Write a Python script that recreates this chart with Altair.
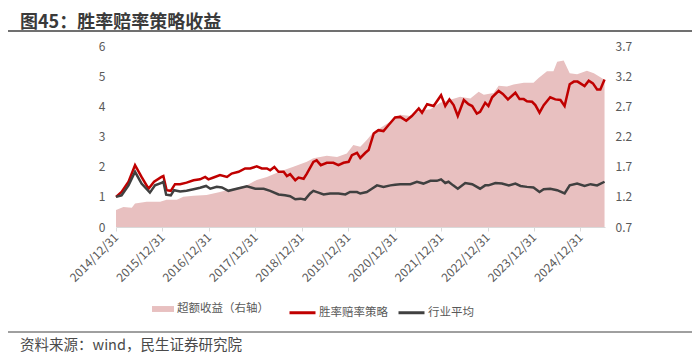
import altair as alt
import pandas as pd

FONT = "Noto Sans CJK SC"

TITLE = "图45：胜率赔率策略收益"
SOURCE = "资料来源：wind，民生证券研究院"
S_AREA = "超额收益（右轴）"
S_RED = "胜率赔率策略"
S_GREY = "行业平均"

# x positions as fractional years: 2015.0 == 2014/12/31
year_ticks = [2015, 2016, 2017, 2018, 2019, 2020, 2021, 2022, 2023, 2024, 2025]
left_ticks = [0, 1, 2, 3, 4, 5, 6]
right_ticks = [0.7, 1.2, 1.7, 2.2, 2.7, 3.2, 3.7]

red_t = [2015.00, 2015.12, 2015.27, 2015.41, 2015.55, 2015.70, 2015.82, 2015.98,
         2016.02, 2016.09, 2016.18, 2016.27, 2016.38, 2016.52, 2016.67, 2016.81, 2016.92, 2016.99,
         2017.10, 2017.24, 2017.39, 2017.49, 2017.64, 2017.78, 2017.89,
         2018.03, 2018.14, 2018.25, 2018.32, 2018.41, 2018.50, 2018.61, 2018.68, 2018.75, 2018.86, 2018.93,
         2019.04, 2019.11, 2019.25, 2019.32, 2019.41, 2019.54, 2019.68, 2019.79, 2019.90,
         2020.01, 2020.08, 2020.19, 2020.26, 2020.37, 2020.44, 2020.55, 2020.65, 2020.76, 2020.87,
         2021.01, 2021.12, 2021.25, 2021.37, 2021.52, 2021.59, 2021.70, 2021.84,
         2022.00, 2022.09, 2022.18, 2022.27, 2022.36, 2022.49, 2022.59, 2022.67, 2022.77, 2022.84, 2022.95,
         2023.02, 2023.10, 2023.24, 2023.33, 2023.44, 2023.60, 2023.69, 2023.78, 2023.85, 2023.96,
         2024.03, 2024.12, 2024.21, 2024.35, 2024.46, 2024.57, 2024.66, 2024.77, 2024.86, 2024.94,
         2025.09, 2025.18, 2025.27, 2025.36, 2025.43, 2025.52]
red_v = [1.0, 1.16, 1.5, 2.05, 1.66, 1.27, 1.5, 1.66,
         1.69, 1.22, 1.2, 1.42, 1.42, 1.47, 1.55, 1.58, 1.66, 1.58,
         1.64, 1.72, 1.66, 1.77, 1.83, 1.94, 1.94,
         2.01, 1.94, 1.94, 1.88, 1.99, 1.83, 1.83, 1.69, 1.75, 1.55, 1.64,
         1.6, 1.77, 2.16, 2.21, 2.05, 2.13, 2.13, 2.05, 2.13,
         2.16, 2.38, 2.46, 2.29, 2.46, 2.55, 3.1, 3.21, 3.18, 3.38,
         3.63, 3.65, 3.52, 3.68, 3.93, 3.79, 4.07, 4.01,
         4.37, 4.01, 4.23, 4.04, 3.68, 4.21, 4.07, 4.01, 3.76, 3.82, 4.12,
         4.01, 4.3, 4.51, 4.41, 4.23, 4.45, 4.24, 4.24, 4.17, 4.15,
         4.04, 3.79, 4.04, 4.3, 4.23, 4.21, 4.01, 4.73, 4.82, 4.82,
         4.67, 4.85, 4.76, 4.56, 4.56, 4.89]

grey_t = [2015.00, 2015.12, 2015.27, 2015.41, 2015.55, 2015.73, 2015.84, 2015.98,
          2016.02, 2016.08, 2016.18, 2016.25, 2016.38, 2016.52, 2016.67, 2016.81, 2016.94,
          2017.03, 2017.17, 2017.28, 2017.42, 2017.60, 2017.82,
          2018.00, 2018.18, 2018.32, 2018.50, 2018.64, 2018.75, 2018.86, 2018.97,
          2019.07, 2019.18, 2019.25, 2019.36, 2019.47, 2019.61, 2019.79, 2019.94,
          2020.04, 2020.19, 2020.26, 2020.40, 2020.51, 2020.62, 2020.76, 2020.91,
          2021.01, 2021.12, 2021.34, 2021.48, 2021.62, 2021.77, 2021.91,
          2022.00, 2022.09, 2022.16, 2022.26, 2022.36, 2022.52, 2022.67, 2022.84, 2022.95,
          2023.02, 2023.17, 2023.31, 2023.46, 2023.60, 2023.71, 2023.85, 2023.99,
          2024.12, 2024.21, 2024.35, 2024.50, 2024.66, 2024.77, 2024.93,
          2025.09, 2025.22, 2025.36, 2025.52]
grey_v = [1.0, 1.05, 1.38, 1.83, 1.44, 1.14, 1.38, 1.46,
          1.5, 1.07, 1.05, 1.22, 1.18, 1.2, 1.25, 1.3, 1.36,
          1.27, 1.33, 1.31, 1.2, 1.27, 1.35,
          1.27, 1.27, 1.2, 1.08, 1.05, 1.02, 0.92, 0.94,
          0.91, 1.11, 1.2, 1.14, 1.08, 1.11, 1.11, 1.08,
          1.16, 1.16, 1.11, 1.16, 1.27, 1.38, 1.33, 1.38,
          1.40, 1.42, 1.42, 1.5, 1.44, 1.53, 1.53,
          1.58, 1.46, 1.5, 1.38, 1.27, 1.46, 1.42, 1.27, 1.38,
          1.38, 1.46, 1.44, 1.38, 1.44, 1.36, 1.33, 1.31,
          1.16, 1.25, 1.27, 1.22, 1.11, 1.38, 1.44,
          1.36, 1.42, 1.38, 1.5]

area_t = [2015.00, 2015.16, 2015.34, 2015.41, 2015.66, 2015.95,
          2016.09, 2016.31, 2016.45, 2016.67, 2016.95,
          2017.24, 2017.53, 2017.82,
          2018.03, 2018.25, 2018.53, 2018.82,
          2019.11, 2019.25, 2019.54, 2019.76, 2019.97,
          2020.11, 2020.26, 2020.40, 2020.55, 2020.69, 2020.91,
          2021.12, 2021.34, 2021.55, 2021.77, 2021.98,
          2022.20, 2022.41, 2022.63, 2022.81, 2022.92,
          2023.13, 2023.24, 2023.42, 2023.56, 2023.78, 2023.99,
          2024.10, 2024.28, 2024.42, 2024.50, 2024.64, 2024.77, 2024.93,
          2025.14, 2025.29, 2025.52]
area_v = [0.98, 1.03, 1.02, 1.09, 1.12, 1.12,
          1.15, 1.15, 1.2, 1.22, 1.23,
          1.28, 1.34, 1.39,
          1.48, 1.53, 1.62, 1.70,
          1.78, 1.84, 1.88, 1.86, 1.92,
          2.06, 2.03, 2.14, 2.28, 2.34, 2.45,
          2.56, 2.54, 2.63, 2.65, 2.76,
          2.81, 2.86, 2.83, 2.94, 2.89,
          2.92, 3.04, 3.03, 3.06, 3.09, 3.09,
          3.17, 3.28, 3.28, 3.44, 3.46, 3.25, 3.23,
          3.29, 3.25, 3.14]
area_base = 0.7

PINK = "#E8C0C0"
RED = "#C00000"
GREY = "#404040"
TXT = "#595959"

area_df = pd.DataFrame({"t": area_t, "v": area_v, "s": S_AREA})
line_df = pd.concat([
    pd.DataFrame({"t": red_t, "v": red_v, "s": S_RED}),
    pd.DataFrame({"t": grey_t, "v": grey_v, "s": S_GREY}),
], ignore_index=True)

x_axis = alt.Axis(values=year_ticks, labelExpr="(datum.value - 1) + '/12/31'",
                  labelAngle=-45, labelAlign="right", labelBaseline="middle",
                  labelOverlap=False, labelFontSize=12, labelColor=TXT, labelFont=FONT,
                  domainColor="#D9D9D9", tickColor="#D9D9D9", tickSize=4,
                  labelPadding=4, grid=False, title=None)
x_scale = alt.Scale(domain=[2015.0, 2025.53], nice=False, zero=False)

area = alt.Chart(area_df).mark_area(opacity=1, clip=True).encode(
    x=alt.X("t:Q", scale=x_scale, axis=x_axis),
    y=alt.Y("v:Q", scale=alt.Scale(domain=[0.7, 3.7], nice=False, zero=False),
            axis=alt.Axis(orient="right", values=right_ticks, format=".1f", domain=False,
                          ticks=False, grid=False, labelPadding=10, labelFontSize=12,
                          labelColor=TXT, labelFont=FONT, title=None)),
    y2=alt.datum(area_base),
    color=alt.Color("s:N", scale=alt.Scale(domain=[S_AREA], range=[PINK]),
                    legend=alt.Legend(orient="none", legendX=36, legendY=252, title=None,
                                      symbolType="M-1,-0.27L1,-0.27L1,0.27L-1,0.27Z",
                                      symbolSize=484, symbolStrokeWidth=0, symbolOpacity=1,
                                      labelOffset=3, labelFontSize=11.5, labelColor=TXT,
                                      labelFont=FONT, padding=0)),
)

lines = alt.Chart(line_df).mark_line(strokeWidth=2.5).encode(
    x=alt.X("t:Q", scale=x_scale, axis=x_axis),
    y=alt.Y("v:Q", scale=alt.Scale(domain=[0, 6], nice=False),
            axis=alt.Axis(orient="left", values=left_ticks, domain=False, ticks=False,
                          grid=False, labelPadding=11, labelFontSize=12, labelColor=TXT,
                          labelFont=FONT, title=None)),
    color=alt.Color("s:N", scale=alt.Scale(domain=[S_RED, S_GREY], range=[RED, GREY]),
                    legend=alt.Legend(orient="none", legendX=172, legendY=252, title=None,
                                      direction="horizontal", symbolType="stroke",
                                      symbolSize=676, symbolStrokeWidth=3,
                                      labelOffset=2, columnPadding=4, labelFontSize=11.5,
                                      labelColor=TXT, labelFont=FONT, padding=0)),
)

one = pd.DataFrame({"a": [0]})
title_txt = alt.Chart(pd.DataFrame({"txt": [TITLE]})).mark_text(
    font=FONT, fontSize=18, fontWeight="bold", color="#3A3A3A", align="left",
    baseline="alphabetic").encode(x=alt.value(-96), y=alt.value(-18.5), text="txt:N")
title_rule = alt.Chart(one).mark_rule(color="#404040", strokeWidth=1.5).encode(
    x=alt.value(-108), x2=alt.value(576), y=alt.value(-15))
foot_rule = alt.Chart(one).mark_rule(color="#404040", strokeWidth=1).encode(
    x=alt.value(-108), x2=alt.value(576), y=alt.value(286))
foot_txt = alt.Chart(pd.DataFrame({"txt": [SOURCE]})).mark_text(
    font=FONT, fontSize=14.5, color="#4A4A4A", align="left",
    baseline="alphabetic").encode(x=alt.value(-96), y=alt.value(304), text="txt:N")

chart = alt.layer(area, lines, title_txt, title_rule, foot_rule, foot_txt).resolve_scale(
    y="independent", color="independent"
).properties(
    width=489, height=181,
    padding={"left": 108, "top": 38, "right": 87, "bottom": 126},
    autosize=alt.AutoSizeParams(type="none"),
).configure_view(stroke=None)

chart.save("out.html", embed_options={"renderer": "svg", "actions": False})
